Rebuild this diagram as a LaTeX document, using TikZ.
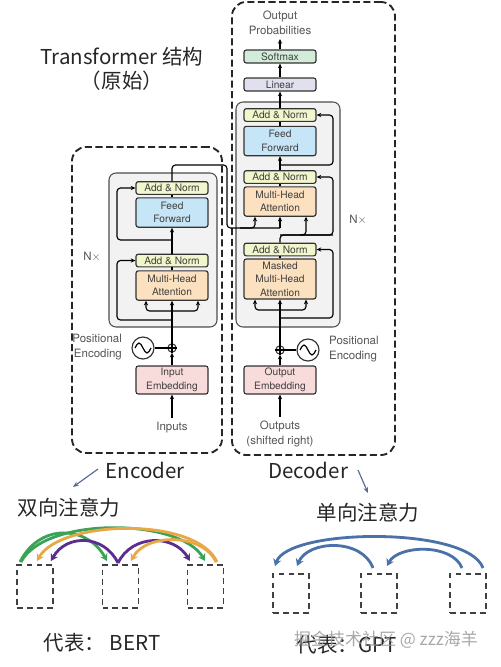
\documentclass[tikz,border=0pt]{standalone}
\usepackage{fontspec}
\setmainfont{TeX Gyre Heros}
\newfontfamily\cjk{Noto Sans CJK SC}
\usepackage{tikz}
\usetikzlibrary{positioning,shapes,arrows.meta,calc}

\definecolor{anfill}{HTML}{F2F6CC}
\definecolor{fffill}{HTML}{C6E5F6}
\definecolor{mhafill}{HTML}{FBE1BF}
\definecolor{embfill}{HTML}{F8DCDC}
\definecolor{smfill}{HTML}{D3EBD9}
\definecolor{linfill}{HTML}{E0E0EE}
\definecolor{labgray}{HTML}{555555}
\definecolor{pointer}{HTML}{5A6A9A}
\definecolor{attgreen}{HTML}{3AA357}
\definecolor{attorange}{HTML}{E8A845}
\definecolor{attpurple}{HTML}{5B2D8E}
\definecolor{attblue}{HTML}{4A72A8}

\newcommand\boxfont{\fontsize{8.7}{11.5}\selectfont}
\newcommand\labfont{\fontsize{9.8}{12.8}\selectfont}
\newcommand\cjkfont{\cjk\fontsize{17.5}{21}\selectfont}

\tikzstyle{block} = [rectangle, rounded corners=2pt, draw=black!80, line width=1pt, minimum width=2.16cm, inner sep=0pt, align=center, font=\boxfont, text=black!75]
\tikzstyle{addnorm} = [block, fill=anfill, minimum height=0.38cm]
\tikzstyle{ffwd} = [block, fill=fffill, minimum height=0.88cm]
\tikzstyle{mha} = [block, fill=mhafill, minimum height=0.88cm]
\tikzstyle{embed} = [block, fill=embfill, minimum height=0.84cm]
\tikzstyle{layer} = [rectangle, rounded corners=6pt, draw=black!70, line width=0.9pt, fill=black!5]
\tikzstyle{dashbox} = [rectangle, rounded corners=12pt, draw=black!85, line width=1.6pt, dash pattern=on 6pt off 3pt]
\tikzstyle{addop} = [circle, draw=black!80, line width=0.9pt, fill=white, minimum size=0.25cm, inner sep=0pt]
\tikzstyle{posenc} = [circle, draw=black!80, line width=1pt, fill=white, minimum size=0.66cm, inner sep=0pt]
\tikzstyle{label} = [font=\labfont, text=labgray, align=center]
\tikzstyle{arrow} = [line width=1pt, -{Stealth[length=4pt,width=3.6pt]}]
\tikzstyle{wire} = [line width=1pt, rounded corners=3pt]
\tikzstyle{tokbox} = [draw=black!75, line width=1.2pt, dash pattern=on 5pt off 3.5pt, minimum width=1.08cm]
\tikzstyle{attn} = [line width=2.4pt, -{Stealth[length=6pt,width=7pt]}]

\begin{document}
\begin{tikzpicture}[x=0.03cm, y=-0.03cm]
\useasboundingbox (0,0) rectangle (500,667);

\node (title) [font=\cjkfont, align=center, text=black!85] at (122,69) {Transformer 结构\\（原始）};

% dashed frames
\node (encframe) [dashbox, minimum width=4.5cm, minimum height=9.18cm] at (147,300) {};
\node (decframe) [dashbox, minimum width=4.89cm, minimum height=13.59cm] at (313.5,228.5) {};

% encoder
\node (enclayer) [layer, minimum width=3.24cm, minimum height=4.62cm] at (163,250) {};
\node (encan2) [addnorm] at (172,188) {Add \& Norm};
\node (encff) [ffwd] at (172,212.5) {Feed\\Forward};
\node (encan1) [addnorm] at (172,260.5) {Add \& Norm};
\node (encmha) [mha] at (172,285.5) {Multi-Head\\Attention};
\node (encemb) [embed] at (172,380) {Input\\Embedding};
\node (encadd) [addop] at (172,348) {};
\draw [line width=0.9pt] (encadd.north) -- (encadd.south) (encadd.west) -- (encadd.east);
\node (encpe) [posenc] at (143,348) {};
\draw [line width=1pt] (encpe) ++(-8,0) sin ++(4,-5) cos ++(4,5) sin ++(4,5) cos ++(4,-5);
\node (encpetext) [label, align=right, anchor=east] at (126,347) {Positional\\Encoding};
\node (encin) [label] at (172,428) {Inputs};
\node (encnx) [label] at (92,257) {N$\times$};

\draw [arrow] (encin.north) -- (encemb);
\draw [arrow] (encemb) -- (encadd);
\draw [wire] (encpe) -- (encadd);
\draw [arrow] (encadd) -- (encmha);
\coordinate (encfork) at (172,311);
\draw [arrow, wire] (encfork) -| ($(encmha.south)+(-26,0)$);
\draw [arrow, wire] (encfork) -| ($(encmha.south)+(26,0)$);
\draw [arrow, wire] (172,320) -- (117,320) |- (encan1.west);
\draw [wire] (encmha) -- (encan1);
\draw [arrow] (encan1) -- (encff);
\draw [arrow, wire] (172,240) -- (117,240) |- (encan2.west);
\draw [wire] (encff) -- (encan2);

% decoder
\node (declayer) [layer, minimum width=3.12cm, minimum height=6.75cm] at (288,214.5) {};
\node (softmax) [block, fill=smfill, minimum height=0.39cm] at (280,56.5) {Softmax};
\node (linear) [block, fill=linfill, minimum height=0.39cm] at (280,84.5) {Linear};
\node (decan3) [addnorm] at (280,115) {Add \& Norm};
\node (decff) [ffwd] at (280,141) {Feed\\Forward};
\node (decan2) [addnorm] at (280,177) {Add \& Norm};
\node (decmha) [mha] at (280,201.5) {Multi-Head\\Attention};
\node (decan1) [addnorm] at (280,249.5) {Add \& Norm};
\node (decmmha) [mha, minimum height=1.2cm] at (280,279) {Masked\\Multi-Head\\Attention};
\node (decemb) [embed] at (280,380) {Output\\Embedding};
\node (decadd) [addop] at (280,350) {};
\draw [line width=0.9pt] (decadd.north) -- (decadd.south) (decadd.west) -- (decadd.east);
\node (decpe) [posenc] at (308,350) {};
\draw [line width=1pt] (decpe) ++(-8,0) sin ++(4,-5) cos ++(4,5) sin ++(4,5) cos ++(4,-5);
\node (decpetext) [label, align=left, anchor=west] at (325,349) {Positional\\Encoding};
\node (decout) [label] at (280,434) {Outputs\\(shifted right)};
\node (decprob) [label] at (280,23) {Output\\Probabilities};
\node (decnx) [label] at (358,220) {N$\times$};

\draw [arrow] (decout.north) -- (decemb);
\draw [arrow] (decemb) -- (decadd);
\draw [wire] (decpe) -- (decadd);
\draw [arrow] (decadd) -- (decmmha);
\coordinate (decfork) at (280,310);
\draw [arrow, wire] (decfork) -| ($(decmmha.south)+(-25,0)$);
\draw [arrow, wire] (decfork) -| ($(decmmha.south)+(26,0)$);
\draw [arrow, wire] (280,318) -- (333,318) |- (decan1.east);
\draw [wire] (decmmha) -- (decan1);
\draw [wire] (decan1.north) -- (280,235) -- (333,235);
\draw [arrow, wire] (280,235) -| ($(decmha.south)+(26,0)$);
\draw [arrow, wire] (300,235) -- (333,235) |- (decan2.east);
\draw [wire] (decmha) -- (decan2);
\draw [arrow] (decan2) -- (decff);
\draw [arrow, wire] (280,165) -- (333,165) |- (decan3.east);
\draw [wire] (decff) -- (decan3);
\draw [arrow] (decan3) -- (linear);
\draw [arrow] (linear) -- (softmax);
\draw [arrow] (softmax) -- (decprob);

% encoder output into decoder
\draw [wire] (encan2.north) |- (227,165) |- (280,228);
\draw [arrow, wire] (240,228) -| ($(decmha.south)+(-25,0)$);
\draw [arrow] (280,228) -- (decmha.south);

% bottom part
\node (enclab) [font=\cjkfont, text=black!85] at (145,470) {Encoder};
\node (declab) [font=\cjkfont, text=black!85] at (308,470) {Decoder};
\draw [line width=1pt, draw=pointer, -{Stealth[length=5pt,width=4pt]}] (98,469) -- (73,487);
\draw [line width=1pt, draw=pointer, -{Stealth[length=5pt,width=4pt]}] (358,470) -- (368,493);
\node (bidir) [font=\cjkfont, text=black!85] at (69,508) {双向注意力};
\node (unidir) [font=\cjkfont, text=black!85] at (368,513) {单向注意力};

\node (ltok1) [tokbox, minimum height=1.29cm] at (35,586.5) {};
\node (ltok2) [tokbox, minimum height=1.29cm] at (120.5,586.5) {};
\node (ltok3) [tokbox, minimum height=1.29cm] at (205.5,586.5) {};
\node (rtok1) [tokbox, minimum height=1.17cm] at (291,593.5) {};
\node (rtok2) [tokbox, minimum height=1.17cm] at (379,593.5) {};
\node (rtok3) [tokbox, minimum height=1.17cm] at (468,593.5) {};

\draw [attn, draw=attgreen] (20,562) .. controls (40,522) and (88,526) .. (107,561);
\draw [attn, draw=attgreen] (21,562) .. controls (45,516) and (180,518) .. (205,561);
\draw [attn, draw=attpurple] (118,563) .. controls (104,534) and (66,534) .. (51,561);
\draw [attn, draw=attpurple] (118,563) .. controls (132,534) and (174,534) .. (190,561);
\draw [attn, draw=attorange] (217,562) .. controls (196,516) and (60,520) .. (37,561);
\draw [attn, draw=attorange] (216,562) .. controls (203,533) and (146,533) .. (131,561);

\draw [attn, draw=attblue] (373,568) .. controls (362,538) and (308,540) .. (297,566);
\draw [attn, draw=attblue] (483,568) .. controls (468,526) and (288,528) .. (275,566);
\draw [attn, draw=attblue] (462,568) .. controls (452,543) and (398,545) .. (387,566);

\node (bert) [font=\cjkfont, text=black!85] at (102,643) {代表： BERT};
\node (gpt) [font=\cjkfont, text=black!85] at (347,645) {代表：GPT};
\node (mark) [font=\cjk\fontsize{14.5}{17}\selectfont, text=black!40, opacity=0.85] at (386,640) {掘金技术社区 @ zzz海羊};

\end{tikzpicture}
\end{document}
